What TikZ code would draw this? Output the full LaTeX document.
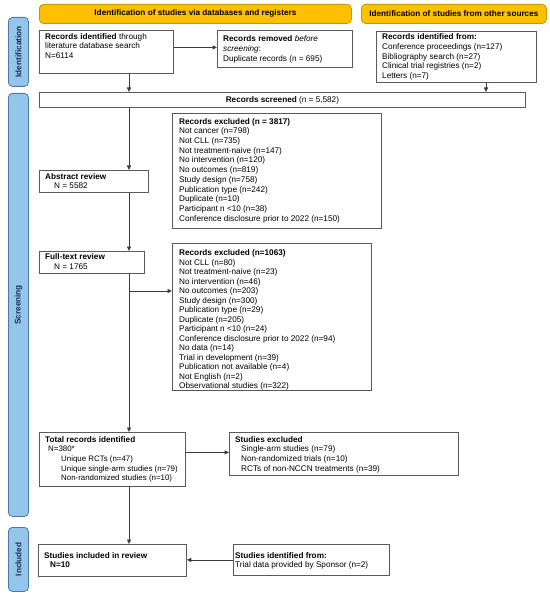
\documentclass[tikz,border=0pt]{standalone}
\usepackage{fontspec}
\setmainfont{Liberation Sans}
\usetikzlibrary{arrows.meta,calc}
\definecolor{yfill}{HTML}{FFC000}
\definecolor{ydraw}{HTML}{C49A00}
\definecolor{bfill}{HTML}{94C6EC}
\definecolor{bdraw}{HTML}{4A7AA5}
\definecolor{btext}{HTML}{1C2E50}
\definecolor{boxc}{HTML}{5A5A5A}
\definecolor{arrc}{HTML}{3A3A3A}
\newcommand\fsz{\fontsize{8.2bp}{9.7bp}\selectfont}
\newcommand\fszb{\fontsize{8.2bp}{9bp}\selectfont\bfseries}
\begin{document}
\begin{tikzpicture}[x=1bp,y=-1bp,
  box/.style={draw=boxc, line width=0.8bp, fill=white, inner sep=0, anchor=north west},
  txt/.style={inner sep=0, anchor=north west, align=left, font=\fsz},
  banner/.style={draw=ydraw, line width=0.8bp, fill=yfill, rounded corners=4bp, inner sep=0, anchor=north west, font=\fszb},
  side/.style={draw=bdraw, line width=0.8bp, fill=bfill, rounded corners=4bp, inner sep=0, anchor=north west},
  sidetxt/.style={rotate=90, font=\fontsize{8.2bp}{9bp}\selectfont\bfseries, text=btext, inner sep=0},
  arr/.style={draw=arrc, line width=0.8bp, -{Triangle[length=4.5bp,width=4bp]}},
  ln/.style={draw=arrc, line width=0.8bp}]
\useasboundingbox (0,0) rectangle (550,598);

% banners
\node[banner, minimum width=312bp, minimum height=19bp] (ban1) at (39,4) {Identification of studies via databases and registers};
\node[banner, minimum width=185bp, minimum height=19bp] (ban2) at (361,4) {Identification of studies from other sources};

% side labels
\node[side, minimum width=20bp, minimum height=69bp] (sid1) at (8,17) {};
\node[sidetxt] at (sid1.center) {Identification};
\node[side, minimum width=20bp, minimum height=423bp] (sid2) at (8,93) {};
\node[sidetxt] at (sid2.center) {Screening};
\node[side, minimum width=20bp, minimum height=64bp] (sid3) at (8,527) {};
\node[sidetxt] at (sid3.center) {Included};

% boxes
\node[box, minimum width=134bp, minimum height=43bp] (rid) at (39,30) {};
\node[txt] at (45,33) {\textbf{Records identified} through\\literature database search\\N=6114};

\node[box, minimum width=135bp, minimum height=37bp] (rrem) at (217,30) {};
\node[txt] at (223,35.5) {\textbf{Records removed} \textit{before}\\\textit{screening}:\\Duplicate records (n = 695)};

\node[box, minimum width=160bp, minimum height=51bp] (oth) at (376,31) {};
\node[txt] at (382,33.5) {\textbf{Records identified from:}\\Conference proceedings (n=127)\\Bibliography search (n=27)\\Clinical trial registries (n=2)\\Letters (n=7)};

\node[box, minimum width=486bp, minimum height=15bp] (scr) at (39,92) {};
\node[inner sep=0, font=\fsz] at (scr.center) {\textbf{Records screened} (n = 5,582)};

\node[box, minimum width=209bp, minimum height=115bp] (ex1) at (172,113) {};
\node[txt] at (179,118) {\textbf{Records excluded (n = 3817)}\\Not cancer (n=798)\\Not CLL (n=735)\\Not treatment-naive (n=147)\\No intervention (n=120)\\No outcomes (n=819)\\Study design (n=758)\\Publication type (n=242)\\Duplicate (n=10)\\Participant n {<}10 (n=38)\\Conference disclosure prior to 2022 (n=150)};

\node[box, minimum width=109bp, minimum height=22bp] (abs) at (39,170) {};
\node[txt] at (45,173) {\textbf{Abstract review}\\\hspace*{9bp}N = 5582};

\node[box, minimum width=105bp, minimum height=22bp] (ful) at (39,251) {};
\node[txt] at (45,253.5) {\textbf{Full-text review}\\\hspace*{9bp}N = 1765};

\node[box, minimum width=199bp, minimum height=147bp] (ex2) at (172,243) {};
\node[txt, font=\fontsize{8.2bp}{9.5bp}\selectfont] at (179,249.5) {\textbf{Records excluded (n=1063)}\\Not CLL (n=80)\\Not treatment-naive (n=23)\\No intervention (n=46)\\No outcomes (n=203)\\Study design (n=300)\\Publication type (n=29)\\Duplicate (n=205)\\Participant n {<}10 (n=24)\\Conference disclosure prior to 2022 (n=94)\\No data (n=14)\\Trial in development (n=39)\\Publication not available (n=4)\\Not English (n=2)\\Observational studies (n=322)};

\node[box, minimum width=146bp, minimum height=54bp] (tot) at (39,432) {};
\node[txt, font=\fontsize{7.9bp}{9.7bp}\selectfont] at (45,436) {\textbf{\fontsize{8.2bp}{9.7bp}\selectfont Total records identified}\\\hspace*{3bp}N=380*\\\hspace*{16bp}Unique RCTs (n=47)\\\hspace*{16bp}Unique single-arm studies (n=79)\\\hspace*{16bp}Non-randomized studies (n=10)};

\node[box, minimum width=229bp, minimum height=43bp] (sexc) at (229,432) {};
\node[txt] at (235,436) {\textbf{Studies excluded}\\\hspace*{6bp}Single-arm studies (n=79)\\\hspace*{6bp}Non-randomized trials (n=10)\\\hspace*{6bp}RCTs of non-NCCN treatments (n=39)};

\node[box, minimum width=148bp, minimum height=32bp] (inc) at (38,544) {};
\node[txt] at (44,552) {\textbf{Studies included in review}\\\hspace*{6bp}\textbf{N=10}};

\node[box, minimum width=156bp, minimum height=31bp] (sid) at (233,544) {};
\node[txt] at (235,552) {\textbf{Studies identified from:}\\Trial data provided by Sponsor (n=2)};

% connectors
\coordinate (sp) at (129,0);
\coordinate (ox) at (486,0);
\draw[arr] ([yshift=4.5bp]rid.east) coordinate (a1) -- (a1 -| rrem.west);
\draw[arr] (sp |- rid.south) -- (sp |- scr.north);
\draw[arr] (ox |- oth.south) -- (ox |- scr.north);
\draw[arr] (sp |- scr.south) -- (sp |- abs.north);
\draw[arr] (sp |- abs.south) -- (sp |- ful.north);
\draw[arr] (sp |- ful.south) -- (sp |- tot.north);
\coordinate (b2) at (129,291);
\draw[arr] (b2) -- (b2 -| ex2.west);
\draw[arr] ([yshift=7bp]tot.east) coordinate (a7) -- (a7 -| sexc.west);
\draw[arr] (sp |- tot.south) -- (sp |- inc.north);
\draw[arr] (sid.west) -- (sid.west -| inc.east);
\end{tikzpicture}
\end{document}
